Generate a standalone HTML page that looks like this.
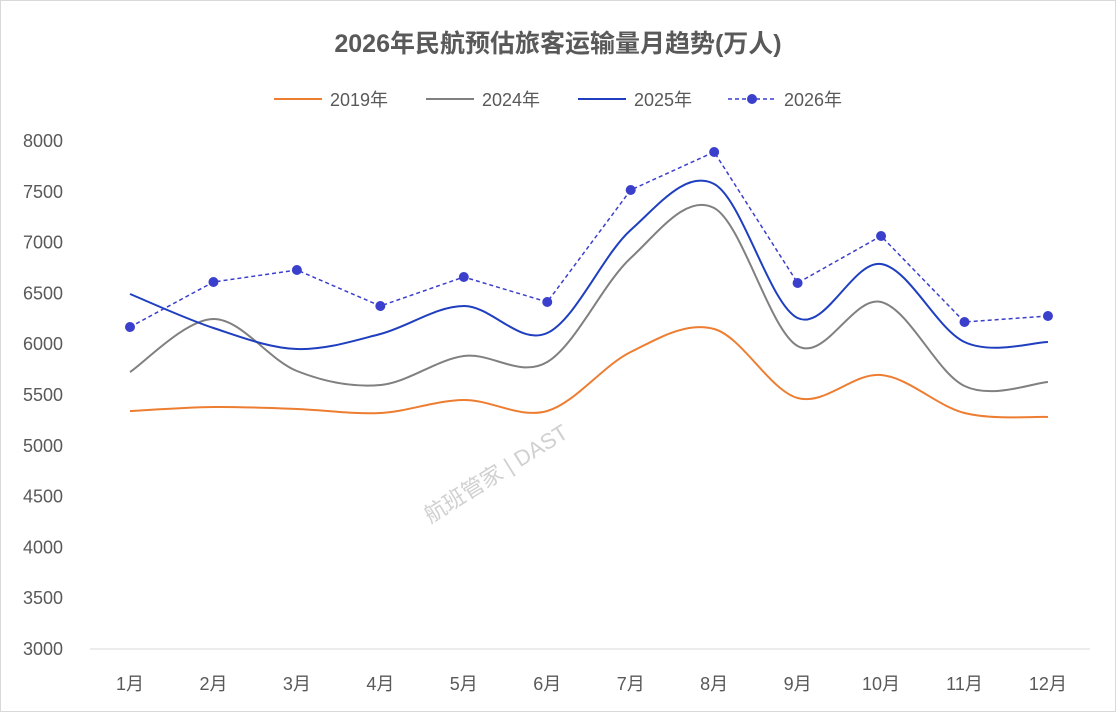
<!DOCTYPE html>
<html><head><meta charset="utf-8"><style>
html,body{margin:0;padding:0;background:#fff;}
svg text{font-family:"Liberation Sans","Noto Sans CJK SC",sans-serif;}
</style></head><body>
<svg id="c" width="1116" height="712" viewBox="0 0 1116 712" xmlns="http://www.w3.org/2000/svg">
<rect x="0.5" y="0.5" width="1115" height="711" fill="#fff" stroke="#d9d9d9"/>
<text x="558" y="52" text-anchor="middle" font-size="25" font-weight="bold" fill="#595959">2026年民航预估旅客运输量月趋势(万人)</text>
<g font-size="18" fill="#595959">
<line x1="274" y1="99" x2="322" y2="99" stroke="#ed7d31" stroke-width="2"/><text x="330" y="106">2019年</text>
<line x1="426" y1="99" x2="474" y2="99" stroke="#808080" stroke-width="2"/><text x="482" y="106">2024年</text>
<line x1="578" y1="99" x2="626" y2="99" stroke="#1f3fbf" stroke-width="2"/><text x="634" y="106">2025年</text>
<line x1="728" y1="99" x2="776" y2="99" stroke="#3a3fcc" stroke-width="1.5" stroke-dasharray="4,3"/><circle cx="752" cy="99" r="5" fill="#3a3fcc"/><text x="784" y="106">2026年</text>
</g>
<g font-size="18" fill="#595959" text-anchor="end" id="yl"></g>
<line x1="90" y1="649" x2="1090" y2="649" stroke="#d9d9d9"/>
<g font-size="18" fill="#595959" text-anchor="middle" id="xl"></g>
<text x="500" y="480" font-size="22" fill="#d0d0d0" transform="rotate(-32 500 480)" text-anchor="middle">航班管家 | DAST</text>
<g id="s"></g>
</svg>
<script>
var ns="http://www.w3.org/2000/svg";
function el(t,a,p,txt){var e=document.createElementNS(ns,t);for(var k in a)e.setAttribute(k,a[k]);if(txt)e.textContent=txt;document.getElementById(p).appendChild(e);return e;}
for(var i=0;i<=10;i++){var v=3000+i*500;var y=649-i*50.8;el("text",{x:63,y:y+6},"yl",""+v);}
var X=[];for(i=0;i<12;i++){X.push(130+i*83.45);el("text",{x:130+i*83.45,y:690},"xl",(i+1)+"月");}
function path(Y){var d="M"+X[0]+","+Y[0];for(var i=0;i<11;i++){var p0=i?i-1:0,p3=i+2<12?i+2:11;
var c1x=X[i]+(X[i+1]-X[p0])/6,c1y=Y[i]+(Y[i+1]-Y[p0])/6,c2x=X[i+1]-(X[p3]-X[i])/6,c2y=Y[i+1]-(Y[p3]-Y[i])/6;
d+=" C"+c1x+","+c1y+" "+c2x+","+c2y+" "+X[i+1]+","+Y[i+1];}return d;}
var s19=[411,407,409,413,400,411,352,329,398,375,413,417];
var s24=[372,319,371,385,356,362,258,208,346,302,386,382];
var s25=[294,328,349,334,306,333,230,184,318,264,342,342];
var s26=[327,282,270,306,277,302,190,152,283,236,322,316];
el("path",{d:path(s19),fill:"none",stroke:"#ed7d31","stroke-width":2},"s");
el("path",{d:path(s24),fill:"none",stroke:"#808080","stroke-width":2},"s");
el("path",{d:path(s25),fill:"none",stroke:"#1f3fbf","stroke-width":2},"s");
var d="M"+X[0]+","+s26[0];for(i=1;i<12;i++)d+=" L"+X[i]+","+s26[i];
el("path",{d:d,fill:"none",stroke:"#3a3fcc","stroke-width":1.5,"stroke-dasharray":"4,3"},"s");
for(i=0;i<12;i++)el("circle",{cx:X[i],cy:s26[i],r:5,fill:"#3a3fcc"},"s");
</script>
</body></html>
